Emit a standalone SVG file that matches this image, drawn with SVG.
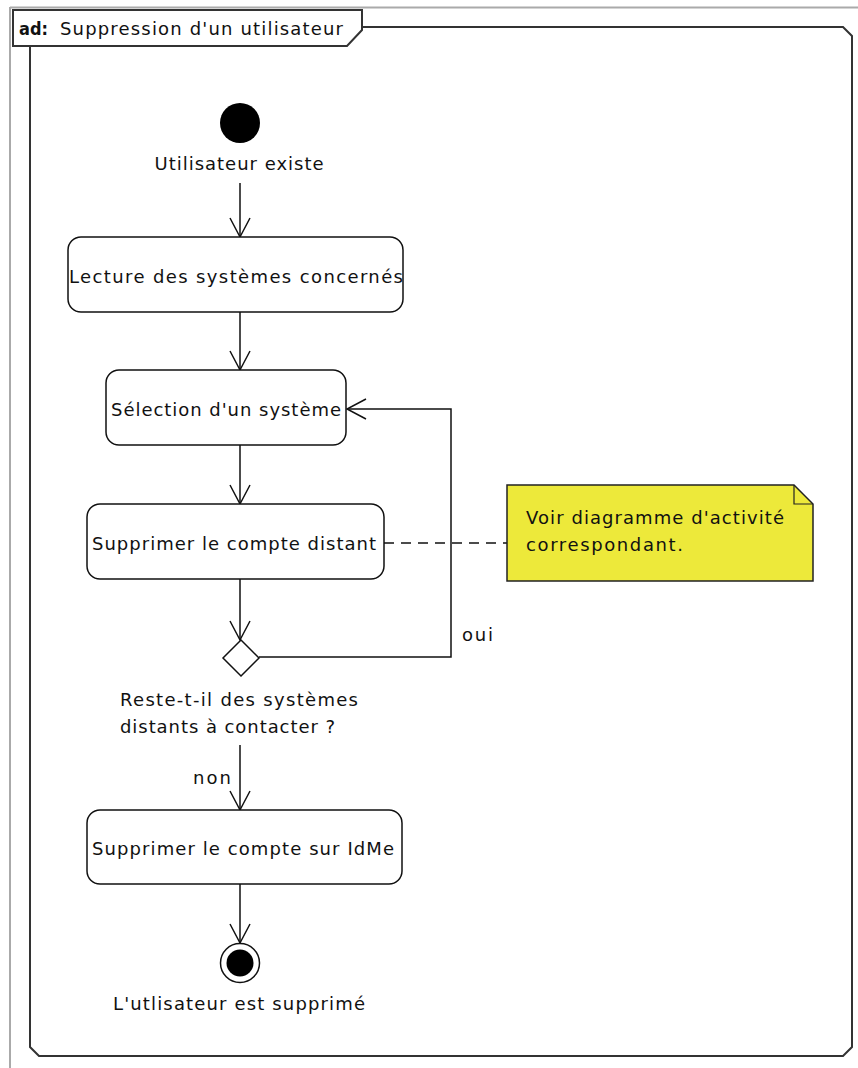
<svg xmlns="http://www.w3.org/2000/svg" width="858" height="1068" viewBox="0 0 858 1068">
<style>
text{font-family:"DejaVu Sans","Liberation Sans",sans-serif;font-size:18px;fill:#111}
.c{text-anchor:middle}
.act{fill:#fff;stroke:#111;stroke-width:1.5}
.ln{fill:none;stroke:#111;stroke-width:1.5}
</style>
<defs>
<marker id="arr" markerUnits="userSpaceOnUse" markerWidth="24" markerHeight="24" viewBox="-21 -12 24 24" refX="0" refY="0" orient="auto">
<path d="M-19,-10 L0,0 L-19,10" fill="none" stroke="#111" stroke-width="1.5"/>
</marker>
</defs>
<rect width="858" height="1068" fill="#fff"/>
<g id="outer">
<line x1="10" y1="7.5" x2="858" y2="7.5" stroke="#aaa" stroke-width="2"/>
<line x1="10" y1="7" x2="10" y2="1068" stroke="#aaa" stroke-width="2"/>
</g>
<g id="frame">
<path d="M30,27 L843,27 L852,36 L852,1047 L843,1056 L39,1056 L30,1047 Z" fill="none" stroke="#333" stroke-width="2"/>
<path d="M13,10 L362,10 L362,30 L347,46 L13,46 Z" fill="#fff" stroke="#333" stroke-width="2"/>
<text x="19" y="35" font-weight="bold" textLength="29" lengthAdjust="spacingAndGlyphs">ad:</text>
<text x="60" y="35" textLength="283" lengthAdjust="spacing">Suppression d'un utilisateur</text>
</g>
<g id="connectors">
<line class="ln" x1="240" y1="183" x2="240" y2="237" marker-end="url(#arr)"/>
<line class="ln" x1="240" y1="312" x2="240" y2="370" marker-end="url(#arr)"/>
<line class="ln" x1="240" y1="445" x2="240" y2="504" marker-end="url(#arr)"/>
<line class="ln" x1="240" y1="579" x2="240" y2="640" marker-end="url(#arr)"/>
<path class="ln" d="M259,657 L451,657 L451,409 L347,409" marker-end="url(#arr)"/>
<line class="ln" x1="240" y1="745" x2="240" y2="810" marker-end="url(#arr)"/>
<line class="ln" x1="240" y1="884" x2="240" y2="943" marker-end="url(#arr)"/>
<line x1="384" y1="543" x2="507" y2="543" stroke="#111" stroke-width="1.5" stroke-dasharray="10,7"/>
<text x="462" y="641" textLength="31" lengthAdjust="spacing">oui</text>
<text x="193" y="784" textLength="38" lengthAdjust="spacing">non</text>
</g>
<g id="start">
<circle cx="240" cy="123" r="20" fill="#000"/>
<text class="c" x="239" y="170" textLength="169" lengthAdjust="spacing">Utilisateur existe</text>
</g>
<g id="lecture">
<rect class="act" x="68" y="237" width="335" height="75" rx="13"/>
<text x="69" y="283" textLength="334" lengthAdjust="spacing">Lecture des systèmes concernés</text>
</g>
<g id="selection">
<rect class="act" x="106" y="370" width="240" height="75" rx="13"/>
<text x="111" y="416" textLength="230" lengthAdjust="spacing">Sélection d'un système</text>
</g>
<g id="supprimer-distant">
<rect class="act" x="87" y="504" width="297" height="75" rx="13"/>
<text x="92" y="550" textLength="284" lengthAdjust="spacing">Supprimer le compte distant</text>
</g>
<g id="note">
<path d="M507,485 L794,485 L813,504 L813,581 L507,581 Z" fill="#EDE93A" stroke="#222" stroke-width="1.5"/>
<path d="M794,485 L794,504 L813,504" fill="none" stroke="#222" stroke-width="1.2"/>
<text x="526" y="524" textLength="258" lengthAdjust="spacing">Voir diagramme d'activité</text>
<text x="526" y="551" textLength="157" lengthAdjust="spacing">correspondant.</text>
</g>
<g id="decision">
<path d="M241,640 L259,658 L241,676 L223,658 Z" fill="#fff" stroke="#111" stroke-width="1.5"/>
<text x="120" y="706" textLength="238" lengthAdjust="spacing">Reste-t-il des systèmes</text>
<text x="120" y="733" textLength="215" lengthAdjust="spacing">distants à contacter ?</text>
</g>
<g id="supprimer-idme">
<rect class="act" x="87" y="810" width="315" height="74" rx="13"/>
<text x="92" y="855" textLength="302" lengthAdjust="spacing">Supprimer le compte sur IdMe</text>
</g>
<g id="end">
<circle cx="240" cy="963" r="19.5" fill="#fff" stroke="#111" stroke-width="1.5"/>
<circle cx="240" cy="963" r="13.5" fill="#000"/>
<text x="113" y="1010" textLength="252" lengthAdjust="spacing">L'utlisateur est supprimé</text>
</g>
</svg>
